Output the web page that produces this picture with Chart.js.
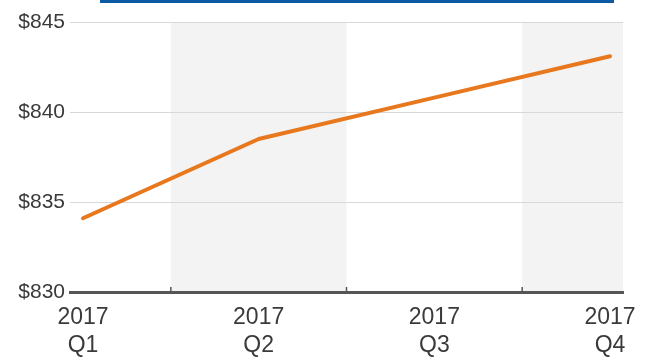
<!DOCTYPE html>
<html>
<head>
<meta charset="utf-8">
<script src="https://cdn.jsdelivr.net/npm/chart.js@4/dist/chart.umd.min.js"></script>
<style>
  html, body { margin: 0; padding: 0; background: #fff; }
  #wrap { position: relative; width: 654px; height: 360px; }
  #topbar { position: absolute; left: 100px; top: 0; width: 514px; height: 3px; background: #0b5aa4; }
</style>
</head>
<body>
<div id="wrap">
  <canvas id="priceChart" width="654" height="360"></canvas>
  <div id="topbar"></div>
</div>
<script>
const quarters = [['2017', 'Q1'], ['2017', 'Q2'], ['2017', 'Q3'], ['2017', 'Q4']];
const prices = [834.1, 838.5, 840.8, 843.1];
const yTicks = [830, 835, 840, 845];

// alternating background columns, in category units (halfway between quarters)
const shadedBands = [[0.5, 1.5], [2.5, 3.074]];
const bandEdges = [0.5, 1.5, 2.5];

const bandsPlugin = {
    id: 'bands',
    beforeDraw(chart) {
        const { ctx, chartArea, scales } = chart;
        ctx.save();
        ctx.fillStyle = '#f3f3f3';
        shadedBands.forEach(([a, b]) => {
            const x1 = scales.x.getPixelForValue(a);
            const x2 = scales.x.getPixelForValue(b);
            ctx.fillRect(x1, chartArea.top, x2 - x1, chartArea.bottom - chartArea.top);
        });
        ctx.restore();
    },
    afterDraw(chart) {
        // small tick marks on the bottom axis between quarters
        const { ctx, chartArea, scales } = chart;
        ctx.save();
        ctx.strokeStyle = '#555';
        ctx.lineWidth = 1.5;
        bandEdges.forEach(v => {
            const x = scales.x.getPixelForValue(v);
            ctx.beginPath();
            ctx.moveTo(x, chartArea.bottom - 5);
            ctx.lineTo(x, chartArea.bottom);
            ctx.stroke();
        });
        ctx.restore();
    }
};

const ctx = document.getElementById('priceChart').getContext('2d');
new Chart(ctx, {
    type: 'line',
    data: {
        datasets: [{
            data: prices.map((p, i) => ({ x: i, y: p })),
            borderColor: '#e8781e',
            borderWidth: 4,
            borderCapStyle: 'round',
            borderJoinStyle: 'round',
            pointRadius: 0,
            tension: 0,
            fill: false
        }]
    },
    options: {
        responsive: false,
        animation: false,
        layout: { padding: { top: 22, right: 31, left: 0, bottom: 0 } },
        plugins: { legend: { display: false }, tooltip: { enabled: false } },
        scales: {
            x: {
                type: 'linear',
                min: -0.074,
                max: 3.074,
                afterBuildTicks: scale => { scale.ticks = quarters.map((q, i) => ({ value: i })); },
                afterFit: scale => { scale.height = 68; },
                grid: { display: false, drawTicks: false },
                border: { display: true, color: '#555', width: 3 },
                ticks: {
                    callback: v => quarters[v],
                    color: '#3a3a3a',
                    font: { family: 'Liberation Sans, Arial', size: 23 },
                    padding: 12,
                    maxRotation: 0,
                    autoSkip: false
                }
            },
            y: {
                min: 830,
                max: 845,
                afterBuildTicks: scale => { scale.ticks = yTicks.map(v => ({ value: v })); },
                afterFit: scale => { scale.width = 70; },
                grid: { color: '#d8d8d8', lineWidth: 1, drawTicks: false },
                border: { display: false },
                ticks: {
                    callback: v => '$' + v,
                    color: '#3a3a3a',
                    font: { family: 'Liberation Sans, Arial', size: 21 },
                    padding: 5
                }
            }
        }
    },
    plugins: [bandsPlugin]
});
</script>
</body>
</html>
